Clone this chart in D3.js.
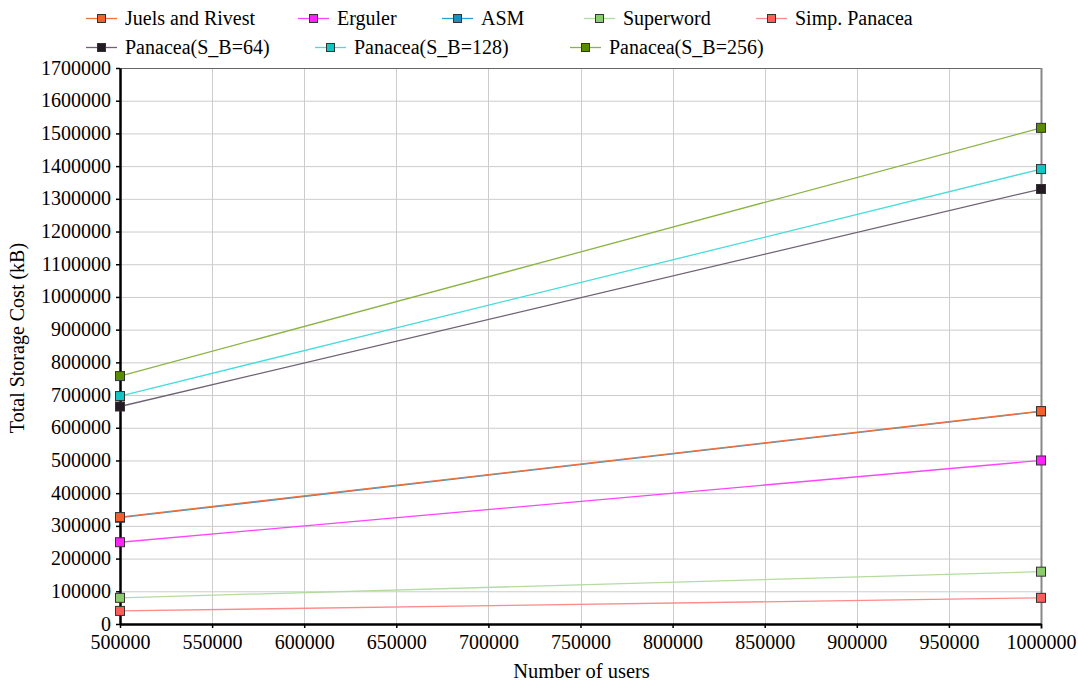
<!DOCTYPE html>
<html><head><meta charset="utf-8">
<script src="https://cdn.jsdelivr.net/npm/d3@7"></script>
<style>
body{margin:0;background:#fff;}
svg text{font-family:"Times New Roman","Liberation Serif","DejaVu Serif",serif !important;fill:#000;}
</style></head><body>
<svg id="chart" width="1078" height="681"></svg>
<script>
const users = [500000, 1000000];
const seriesNames = ["Juels and Rivest","Erguler","ASM","Superword","Simp. Panacea","Panacea(S_B=64)","Panacea(S_B=128)","Panacea(S_B=256)"];
const juels = [327000, 651000];
const erguler = [250000, 500000];
const asm = [325000, 650000];
const superword = [80000, 160000];
const simpPanacea = [40000, 80000];
const panacea64 = [665000, 1330000];
const panacea128 = [697000, 1391000];
const panacea256 = [758000, 1517000];
const xTicks = [500000,550000,600000,650000,700000,750000,800000,850000,900000,950000,1000000];
const yTicks = d3.range(0, 1700001, 100000);

const lineColors = ["#f2703a","#ff44ff","#2f9bd0","#b2dca0","#ff8a8a","#6e6272","#46dcdc","#8cb444"];
const fillColors = ["#f4602a","#ff22ff","#1b8fc0","#8ccc6c","#ff5c5c","#231a23","#14c4c4","#5a8c00"];
const allValues = [juels, erguler, asm, superword, simpPanacea, panacea64, panacea128, panacea256];

const svg = d3.select("#chart");
const L=120, R=1041, T=68, B=624;
const x = d3.scaleLinear().domain([500000,1000000]).range([L,R]);
const y = d3.scaleLinear().domain([0,1700000]).range([B,T]);

// grid
svg.append("g").selectAll("line").data(yTicks).join("line")
  .attr("x1",L).attr("x2",R).attr("y1",d=>y(d)+0.5).attr("y2",d=>y(d)+0.5)
  .attr("stroke","#cccccc").attr("stroke-width",1);
svg.append("g").selectAll("line").data(xTicks.slice(0,-1)).join("line")
  .attr("x1",d=>Math.round(x(d))+0.5).attr("x2",d=>Math.round(x(d))+0.5).attr("y1",T).attr("y2",B)
  .attr("stroke","#cccccc").attr("stroke-width",1);
// top & right border
svg.append("line").attr("x1",L).attr("x2",R).attr("y1",T+0.5).attr("y2",T+0.5).attr("stroke","#666").attr("stroke-width",1);
svg.append("line").attr("x1",R+0.5).attr("x2",R+0.5).attr("y1",T).attr("y2",B+5).attr("stroke","#888").attr("stroke-width",2);

// axes
const gx = svg.append("g").attr("transform",`translate(0,${B})`)
  .call(d3.axisBottom(x).tickValues(xTicks).tickFormat(d3.format("d")).tickSizeOuter(0).tickSizeInner(4).tickPadding(7));
const gy = svg.append("g").attr("transform",`translate(${L},0)`)
  .call(d3.axisLeft(y).tickValues(yTicks).tickFormat(d3.format("d")).tickSizeOuter(0).tickSizeInner(4).tickPadding(5));
[gx,gy].forEach(g=>{
  g.attr("font-family",null);
  g.select(".domain").attr("stroke","#000").attr("stroke-width",2.5);
  g.selectAll(".tick line").attr("stroke","#000").attr("stroke-width",1.5);
  g.selectAll(".tick text").attr("font-size",20).attr("fill","#000");
});
gy.selectAll(".tick text").attr("dy","0.3em");

// axis titles
svg.append("text").attr("x",(L+R)/2+1).attr("y",678).attr("text-anchor","middle").attr("font-size",20.5).text("Number of users");
svg.append("text").attr("transform",`translate(24,${(T+B)/2-8}) rotate(-90)`).attr("text-anchor","middle").attr("font-size",20).text("Total Storage Cost (kB)");

// series
const line = d3.line().x((d,i)=>x(users[i])).y(d=>y(d));
const order = [3,4,1,2,0,5,6,7];
order.forEach(k=>{
  svg.append("path").attr("d",line(allValues[k])).attr("fill","none").attr("stroke",lineColors[k]).attr("stroke-width",1.3);
});
order.forEach(k=>{
  svg.append("g").selectAll("rect").data(allValues[k]).join("rect")
    .attr("x",(d,i)=>x(users[i])-4.5).attr("y",d=>y(d)-4.5).attr("width",9).attr("height",9)
    .attr("fill",fillColors[k]).attr("stroke","#333").attr("stroke-width",1);
});

// legend
const legendPos = [[86,18],[298,18],[442,18],[584,18],[756,18],[86,47],[315,47],[570,47]];
seriesNames.forEach((name,k)=>{
  const [lx,ly] = legendPos[k];
  const g = svg.append("g").attr("transform",`translate(${lx},${ly})`);
  g.append("line").attr("x1",0).attr("x2",31).attr("y1",0.5).attr("y2",0.5).attr("stroke",lineColors[k]).attr("stroke-width",1.3);
  g.append("rect").attr("x",11.5).attr("y",-3.5).attr("width",8).attr("height",8).attr("fill",fillColors[k]).attr("stroke","#333").attr("stroke-width",1);
  g.append("text").attr("x",39).attr("y",0).attr("dy","0.35em").attr("font-size",20).text(name);
});
</script>
</body></html>
